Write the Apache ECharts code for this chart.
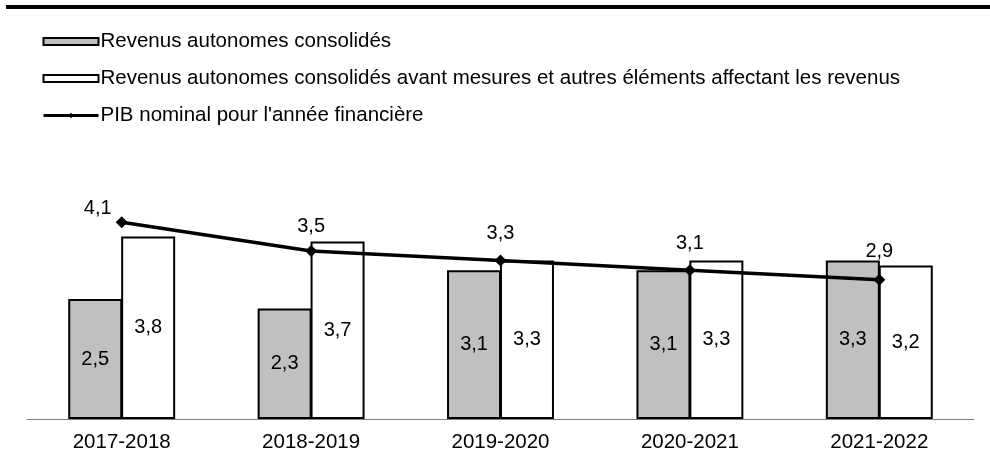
<!DOCTYPE html>
<html lang="fr">

<head>
    <meta charset="UTF-8">
    <title>Revenus autonomes et PIB nominal</title>
    <script src="https://cdn.jsdelivr.net/npm/echarts@6/dist/echarts.min.js"></script>
    <style>
        html, body { margin: 0; padding: 0; background: #ffffff; }
        #myecharts { width: 990px; height: 461px; }
    </style>
</head>

<body>
    <div id="myecharts"></div>
</body>

<script>
    // données
    var annees = ['2017-2018', '2018-2019', '2019-2020', '2020-2021', '2021-2022'];
    var revenusConsolides = [2.5, 2.3, 3.1, 3.1, 3.3];
    var revenusAvantMesures = [3.8, 3.7, 3.3, 3.3, 3.2];
    var pibNominal = [4.1, 3.5, 3.3, 3.1, 2.9];

    // décalage des étiquettes du PIB (placées à la main dans l'original)
    var decalagesPib = [[-24, 7], [0, -4], [0, -6], [0, -6], [0, -7]];

    function virgule(v) {
        return String(v.toFixed(1)).replace('.', ',');
    }

    var police = 'Liberation Sans, Arial, sans-serif';

    let myChart = echarts.init(document.getElementById('myecharts'));

    myChart.setOption({
        animation: false,
        textStyle: { fontFamily: police },
        graphic: [
            {
                // trait noir en haut
                type: 'rect',
                shape: { x: 6, y: 5, width: 984, height: 4 },
                style: { fill: '#000000' }
            }
        ],
        legend: {
            orient: 'vertical',
            left: 42,
            top: 31,
            padding: 0,
            itemWidth: 55,
            itemHeight: 7,
            itemGap: 16,
            textStyle: { fontSize: 20.5, color: '#000000', lineHeight: 20, fontFamily: police, padding: [0, 0, 0, -3] },
            data: [
                { name: 'Revenus autonomes consolidés', icon: 'rect' },
                { name: 'Revenus autonomes consolidés avant mesures et autres éléments affectant les revenus', icon: 'rect' },
                { name: 'PIB nominal pour l\'année financière', lineStyle: { width: 3 } }
            ]
        },
        grid: {
            left: 27,
            right: 16,
            top: 179,
            bottom: 42
        },
        xAxis: {
            type: 'category',
            data: annees,
            axisLine: { lineStyle: { color: '#808080', width: 1 } },
            axisTick: { show: false },
            axisLabel: { color: '#000000', fontSize: 20.5, margin: 13, fontFamily: police }
        },
        yAxis: {
            type: 'value',
            min: 0,
            max: 5,
            show: false,
            splitLine: { show: false }
        },
        series: [
            {
                name: 'Revenus autonomes consolidés',
                type: 'bar',
                data: revenusConsolides,
                barWidth: 54,
                barGap: '-2%',
                itemStyle: { color: '#c0c0c0', borderColor: '#000000', borderWidth: 2 },
                label: {
                    show: true,
                    position: 'inside',
                    color: '#000000',
                    fontSize: 20,
                    fontFamily: police,
                    formatter: function (p) { return virgule(p.value); }
                }
            },
            {
                name: 'Revenus autonomes consolidés avant mesures et autres éléments affectant les revenus',
                type: 'bar',
                data: revenusAvantMesures,
                barWidth: 54,
                barGap: '-2%',
                itemStyle: { color: '#ffffff', borderColor: '#000000', borderWidth: 2 },
                label: {
                    show: true,
                    position: 'inside',
                    color: '#000000',
                    fontSize: 20,
                    fontFamily: police,
                    formatter: function (p) { return virgule(p.value); }
                }
            },
            {
                name: 'PIB nominal pour l\'année financière',
                type: 'line',
                z: 5,
                data: pibNominal.map(function (v, i) {
                    return { value: v, label: { offset: decalagesPib[i] } };
                }),
                symbol: 'diamond',
                symbolSize: 12,
                itemStyle: { color: '#000000' },
                lineStyle: { color: '#000000', width: 3.5 },
                label: {
                    show: true,
                    position: 'top',
                    color: '#000000',
                    fontSize: 20,
                    fontFamily: police,
                    formatter: function (p) { return virgule(p.value); }
                }
            }
        ]
    });
</script>

</html>
